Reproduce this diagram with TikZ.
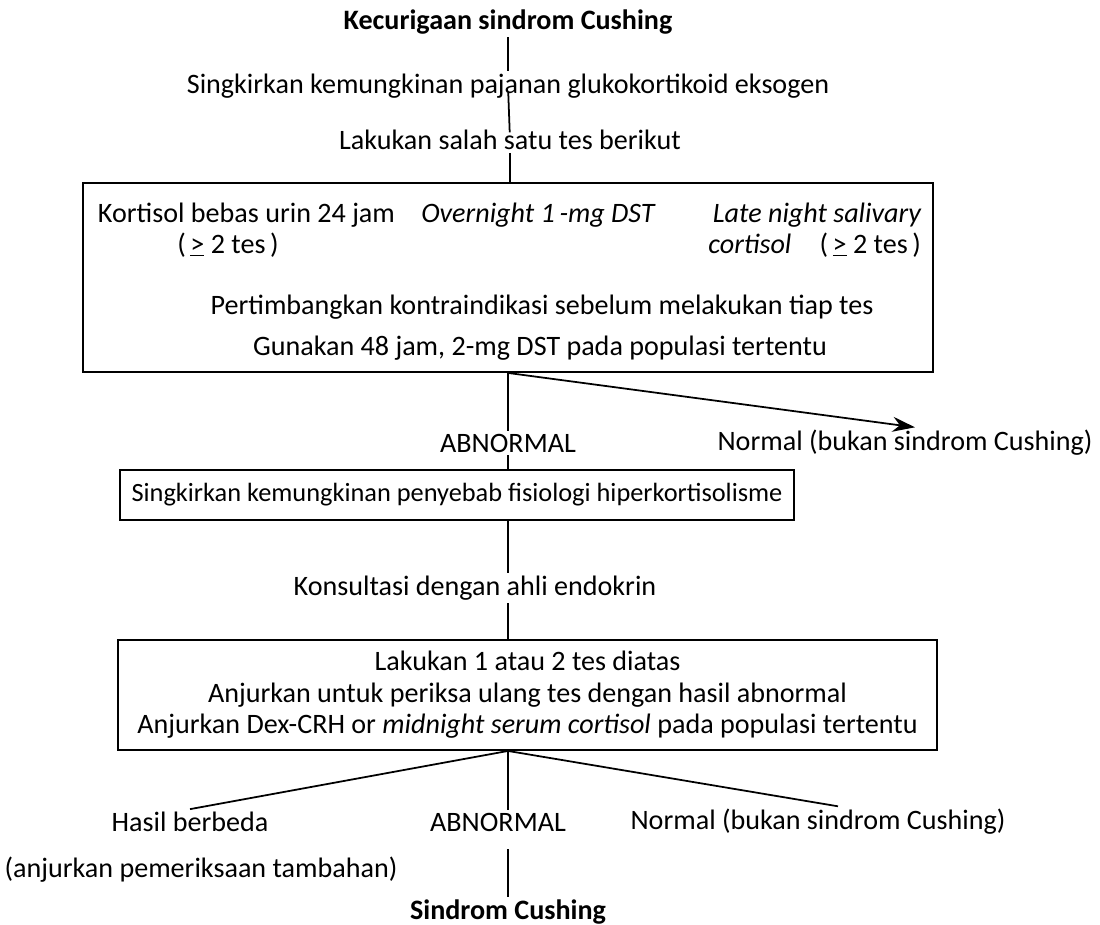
\documentclass[tikz,border=0pt]{standalone}
\usepackage{fontspec}
\setmainfont{Carlito}
\usetikzlibrary{arrows.meta}

\begin{document}
\begin{tikzpicture}[x=0.02cm,y=-0.02cm,
  txt/.style={font=\fontsize{16}{17}\selectfont, inner sep=1.5pt},
  hd/.style={font=\fontsize{16}{17}\selectfont\bfseries, inner sep=1.5pt},
  kotak/.style={draw, line width=1.1pt, inner sep=0pt},
  garis/.style={line width=1pt}]
  \useasboundingbox (0,0) rectangle (1100,925);
  % bagian atas
  \node[hd] (curiga) at (508,22) {Kecurigaan sindrom Cushing};
  \node[txt] (eksogen) at (508,86) {Singkirkan kemungkinan pajanan glukokortikoid eksogen};
  \node[txt] (tes) at (510,140) {Lakukan salah satu tes berikut};
  % kotak tes pertama
  \node[kotak, minimum width=17cm, minimum height=3.78cm] (box1) at (508,277.5) {};
  \node[txt, anchor=west] (urin) at (95,215) {Kortisol bebas urin 24 jam};
  \node[txt] (urin2) at (228,245) {(\,\underline{>} 2 tes\,)};
  \node[txt] (dst) at (538,215) {\itshape Overnight 1\,-mg DST};
  \node[txt, anchor=east] (saliva) at (924,215) {\itshape Late night salivary};
  \node[txt, anchor=east] (saliva2) at (924,245) {\textit{cortisol}\quad(\,\underline{>} 2 tes\,)};
  \node[txt] (kontra) at (542,307) {Pertimbangkan kontraindikasi sebelum melakukan tiap tes};
  \node[txt] (gunakan) at (540,348) {Gunakan 48 jam, 2-mg DST pada populasi tertentu};
  % hasil pertama
  \node[txt] (abn1) at (508,443) {ABNORMAL};
  \node[txt] (normal1) at (905,443) {Normal (bukan sindrom Cushing)};
  \node[kotak, font=\fontsize{15}{17}\selectfont, minimum width=13.5cm, minimum height=1cm] (box2) at (457,495) {Singkirkan kemungkinan penyebab fisiologi hiperkortisolisme};
  \node[txt] (konsul) at (475,588) {Konsultasi dengan ahli endokrin};
  \node[kotak, txt, align=center, minimum width=16.38cm, minimum height=2.2cm] (box3) at (527.5,695) {Lakukan 1 atau 2 tes diatas\\[1pt]
    Anjurkan untuk periksa ulang tes dengan hasil abnormal\\[1pt]
    Anjurkan Dex-CRH or \textit{midnight serum cortisol} pada populasi tertentu};
  % hasil akhir
  \node[txt] (beda) at (190,822) {Hasil berbeda};
  \node[txt] (abn2) at (498,822) {ABNORMAL};
  \node[txt] (normal2) at (818,822) {Normal (bukan sindrom Cushing)};
  \node[txt] (tambahan) at (201,870) {(anjurkan pemeriksaan tambahan)};
  \node[hd] (cushing) at (508,912) {Sindrom Cushing};

  \draw[garis] (curiga) -- (eksogen);
  \draw[garis, shorten <=-5pt, shorten >=-3pt] (eksogen) -- (tes);
  \draw[garis] (tes) -- (tes |- box1.north);
  \draw[garis] (abn1 |- box1.south) -- (abn1);
  \draw[garis, -{Stealth[length=4.5mm,width=3mm]}] (abn1 |- box1.south) -- ([xshift=0.2cm]normal1.north);
  \draw[garis] (abn1) -- (abn1 |- box2.north);
  \draw[garis] (abn1 |- box2.south) -- (abn1 |- konsul.north);
  \draw[garis] (abn1 |- konsul.south) -- (abn1 |- box3.north);
  \coordinate (cabang) at (abn1 |- box3.south);
  \draw[garis] (cabang) -- (beda.north);
  \draw[garis] (cabang) -- (cabang |- abn2.north);
  \draw[garis] (cabang) -- ([xshift=0.4cm]normal2.north);
  \draw[garis, shorten <=0.3cm] (cushing |- abn2.south) -- (cushing);
\end{tikzpicture}
\end{document}
